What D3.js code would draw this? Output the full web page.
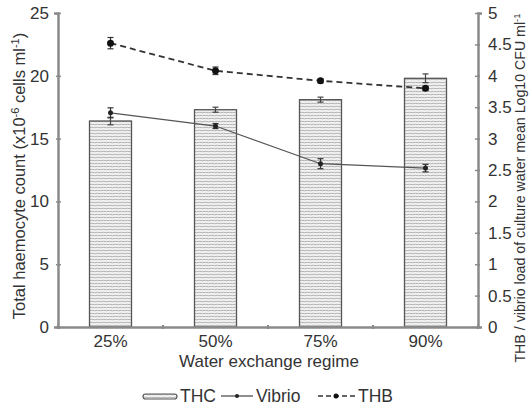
<!DOCTYPE html>
<html>
<head>
<meta charset="utf-8">
<script src="https://cdn.jsdelivr.net/npm/d3@7.9.0/dist/d3.min.js"></script>
<style>
  body { margin: 0; background: #fff; }
  svg { font-family: "Liberation Sans", Arial, sans-serif; }
</style>
</head>
<body>
<svg width="531" height="406"></svg>
<script>
const categories = ['25%', '50%', '75%', '90%'];
const thc = [16.4, 17.3, 18.1, 19.8];
const thcErr = [0.3, 0.2, 0.2, 0.35];
const vibrio = [3.41, 3.2, 2.6, 2.53];
const vibrioErr = [0.08, 0.04, 0.08, 0.06];
const thb = [4.52, 4.08, 3.92, 3.8];
const thbErr = [0.09, 0.06, 0.03, 0.03];
const leftTicks = [0, 5, 10, 15, 20, 25];
const rightTicks = [0, 0.5, 1, 1.5, 2, 2.5, 3, 3.5, 4, 4.5, 5];

const svg = d3.select('svg');
const plotLeft = 58, plotRight = 478, plotTop = 13, plotBottom = 327;
const axisColor = '#8a8a8a';
const textColor = '#333';

const x = d3.scaleBand().domain(categories).range([plotLeft, plotRight]);
const yL = d3.scaleLinear().domain([0, 25]).range([plotBottom, plotTop]);
const yR = d3.scaleLinear().domain([0, 5]).range([plotBottom, plotTop]);

// bar hatch pattern
const defs = svg.append('defs');
const pat = defs.append('pattern')
    .attr('id', 'hatch').attr('patternUnits', 'userSpaceOnUse')
    .attr('width', 6).attr('height', 3);
pat.append('rect').attr('width', 6).attr('height', 3).attr('fill', '#f2f2f2');
pat.append('path').attr('d', 'M0,1.5 Q1.5,1 3,1.5 T6,1.5')
    .attr('stroke', '#a8a8a8').attr('stroke-width', 0.9).attr('fill', 'none');

const bw = x.bandwidth() * 0.4;
const cx = d => x(d) + x.bandwidth() / 2;

// bars
svg.append('g').selectAll('rect').data(categories).join('rect')
    .attr('x', d => cx(d) - bw / 2)
    .attr('y', (d, i) => yL(thc[i]))
    .attr('width', bw)
    .attr('height', (d, i) => plotBottom - yL(thc[i]))
    .attr('fill', 'url(#hatch)')
    .attr('stroke', '#555').attr('stroke-width', 1.3);

function errBars(vals, errs, y, color) {
    const g = svg.append('g').attr('stroke', color).attr('stroke-width', 1.2);
    categories.forEach((c, i) => {
        const xc = cx(c), y1 = y(vals[i] + errs[i]), y2 = y(vals[i] - errs[i]);
        g.append('line').attr('x1', xc).attr('x2', xc).attr('y1', y1).attr('y2', y2);
        g.append('line').attr('x1', xc - 3).attr('x2', xc + 3).attr('y1', y1).attr('y2', y1);
        g.append('line').attr('x1', xc - 3).attr('x2', xc + 3).attr('y1', y2).attr('y2', y2);
    });
}
errBars(thc, thcErr, yL, '#444');

// axes
const axL = svg.append('g').attr('transform', `translate(${plotLeft},0)`)
    .call(d3.axisLeft(yL).tickValues(leftTicks).tickSize(4).tickPadding(5));
const axR = svg.append('g').attr('transform', `translate(${plotRight},0)`)
    .call(d3.axisRight(yR).tickValues(rightTicks).tickSize(4).tickPadding(6).tickFormat(d3.format('')));
const axB = svg.append('g').attr('transform', `translate(0,${plotBottom})`)
    .call(d3.axisBottom(x).tickSize(0).tickPadding(8));
// category boundary ticks
axB.selectAll('.bnd').data(d3.range(5)).join('line')
    .attr('x1', i => plotLeft + i * x.bandwidth()).attr('x2', i => plotLeft + i * x.bandwidth())
    .attr('y1', -2).attr('y2', 2).attr('stroke', axisColor).attr('stroke-width', 2);

[axL, axR, axB].forEach(a => {
    a.select('.domain').attr('stroke', axisColor).attr('stroke-width', 2.5);
    a.selectAll('.tick line').attr('stroke', axisColor).attr('stroke-width', 1.5);
    a.selectAll('text').attr('fill', textColor).attr('font-size', 17)
        .attr('font-family', '"Liberation Sans", Arial, sans-serif');
});
axL.selectAll('.tick line').attr('x1', -2).attr('x2', 3);
axR.selectAll('.tick line').attr('x1', -3).attr('x2', 2);

// lines
const line = d3.line().x((d, i) => cx(categories[i])).y(d => yR(d));
svg.append('path').datum(vibrio).attr('d', line)
    .attr('fill', 'none').attr('stroke', '#555').attr('stroke-width', 1.2);
svg.append('path').datum(thb).attr('d', line)
    .attr('fill', 'none').attr('stroke', '#333').attr('stroke-width', 1.8)
    .attr('stroke-dasharray', '6,4');
errBars(vibrio, vibrioErr, yR, '#333');
errBars(thb, thbErr, yR, '#333');
svg.append('g').selectAll('circle').data(vibrio).join('circle')
    .attr('cx', (d, i) => cx(categories[i])).attr('cy', d => yR(d)).attr('r', 2.5).attr('fill', '#222');
svg.append('g').selectAll('circle').data(thb).join('circle')
    .attr('cx', (d, i) => cx(categories[i])).attr('cy', d => yR(d)).attr('r', 3.5).attr('fill', '#111');

// axis titles
svg.append('text').attr('x', 269).attr('y', 367).attr('text-anchor', 'middle')
    .attr('font-size', 17).attr('fill', textColor).text('Water exchange regime');

const tl = svg.append('text').attr('transform', 'translate(25,176) rotate(-90)')
    .attr('text-anchor', 'middle').attr('font-size', 16.5).attr('fill', textColor);
tl.append('tspan').text('Total haemocyte count (x10');
tl.append('tspan').attr('font-size', 11).attr('dy', -6).text('-6');
tl.append('tspan').attr('dy', 6).text(' cells ml');
tl.append('tspan').attr('font-size', 11).attr('dy', -6).text('-1');
tl.append('tspan').attr('dy', 6).text(')');

const tr = svg.append('text').attr('transform', 'translate(525,188) rotate(-90)')
    .attr('text-anchor', 'middle').attr('font-size', 14.2).attr('fill', textColor);
tr.append('tspan').text('THB / vibrio load of culture water mean Log10 CFU ml');
tr.append('tspan').attr('font-size', 9.5).attr('dy', -5).text('-1');

// legend
const lg = svg.append('g').attr('font-size', 17.5).attr('fill', textColor);
lg.append('rect').attr('x', 143).attr('y', 394).attr('width', 34).attr('height', 5)
    .attr('rx', 2.5).attr('fill', 'url(#hatch)').attr('stroke', '#555').attr('stroke-width', 1.2);
lg.append('text').attr('x', 180).attr('y', 402).text('THC');
lg.append('line').attr('x1', 221).attr('x2', 253).attr('y1', 396).attr('y2', 396)
    .attr('stroke', '#444').attr('stroke-width', 1.2);
lg.append('circle').attr('cx', 237).attr('cy', 396).attr('r', 2).attr('fill', '#222');
lg.append('text').attr('x', 256).attr('y', 402).text('Vibrio');
lg.append('line').attr('x1', 318).attr('x2', 355).attr('y1', 396).attr('y2', 396)
    .attr('stroke', '#333').attr('stroke-width', 1.6).attr('stroke-dasharray', '5,3');
lg.append('circle').attr('cx', 336).attr('cy', 396).attr('r', 2.5).attr('fill', '#111');
lg.append('text').attr('x', 358).attr('y', 402).text('THB');
</script>
</body>
</html>
